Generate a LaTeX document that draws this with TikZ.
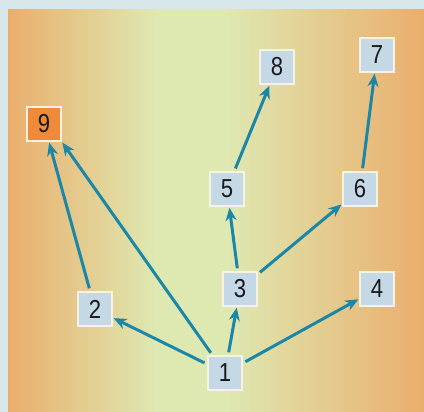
\documentclass[tikz,border=0pt]{standalone}
\usepackage{fontspec}
\newfontfamily\numfont[FakeStretch=0.85]{Liberation Sans}
\usepackage{xcolor}
\usetikzlibrary{arrows.meta, positioning}
\definecolor{frameblue}{HTML}{D8E7EA}
\definecolor{panelorange}{HTML}{EAAE6C}
\definecolor{panelpale}{HTML}{DEE9B2}
\definecolor{boxblue}{HTML}{C4D8E6}
\definecolor{boxrim}{HTML}{F6F3E4}
\definecolor{hotorange}{HTML}{EE8A3A}
\definecolor{linkteal}{HTML}{1A86A8}
\pgfdeclarehorizontalshading{panelshade}{100bp}{color(0bp)=(panelorange); color(25bp)=(panelorange); color(43bp)=(panelpale); color(51bp)=(panelpale); color(75bp)=(panelorange); color(100bp)=(panelorange)}
\tikzset{
  vertex/.style={rectangle, minimum width=34pt, minimum height=34pt, inner sep=0pt, text centered, draw=boxrim, line width=1.5pt, fill=boxblue, font=\numfont\fontsize{26}{26}\selectfont, text=black!90},
  hotvertex/.style={vertex, fill=hotorange},
  link/.style={line width=3pt, draw=linkteal, -{Stealth[length=13pt, width=11pt]}, shorten <=3pt, shorten >=1pt}
}

\begin{document}
\begin{tikzpicture}[x=1pt, y=-1pt]
% Frame and panel
\fill[frameblue] (0,0) rectangle (424,412);
\shade[shading=panelshade] (8,10) rectangle (424,412);
\useasboundingbox (0,0) rectangle (424,412);

% Nodes
\node[vertex] (n1) at (225,373) {1};
\node[vertex] (n2) at (95,309) {2};
\node[vertex] (n3) at (240,289) {3};
\node[vertex] (n4) at (377,289) {4};
\node[vertex] (n5) at (227,189) {5};
\node[vertex] (n6) at (360,189) {6};
\node[vertex] (n7) at (377,55) {7};
\node[vertex] (n8) at (277,67) {8};
\node[hotvertex] (n9) at (44,124) {9};

% Links
\draw[link] (n1) -- (n2);
\draw[link] (n1) -- (n9.south east);
\draw[link] (n1) -- (n3);
\draw[link] (n1) -- (n4);
\draw[link] (n2) -- (n9);
\draw[link] (n3) -- (n5);
\draw[link] (n3) -- (n6);
\draw[link] (n5) -- (n8);
\draw[link] (n6) -- (n7);
\end{tikzpicture}
\end{document}
